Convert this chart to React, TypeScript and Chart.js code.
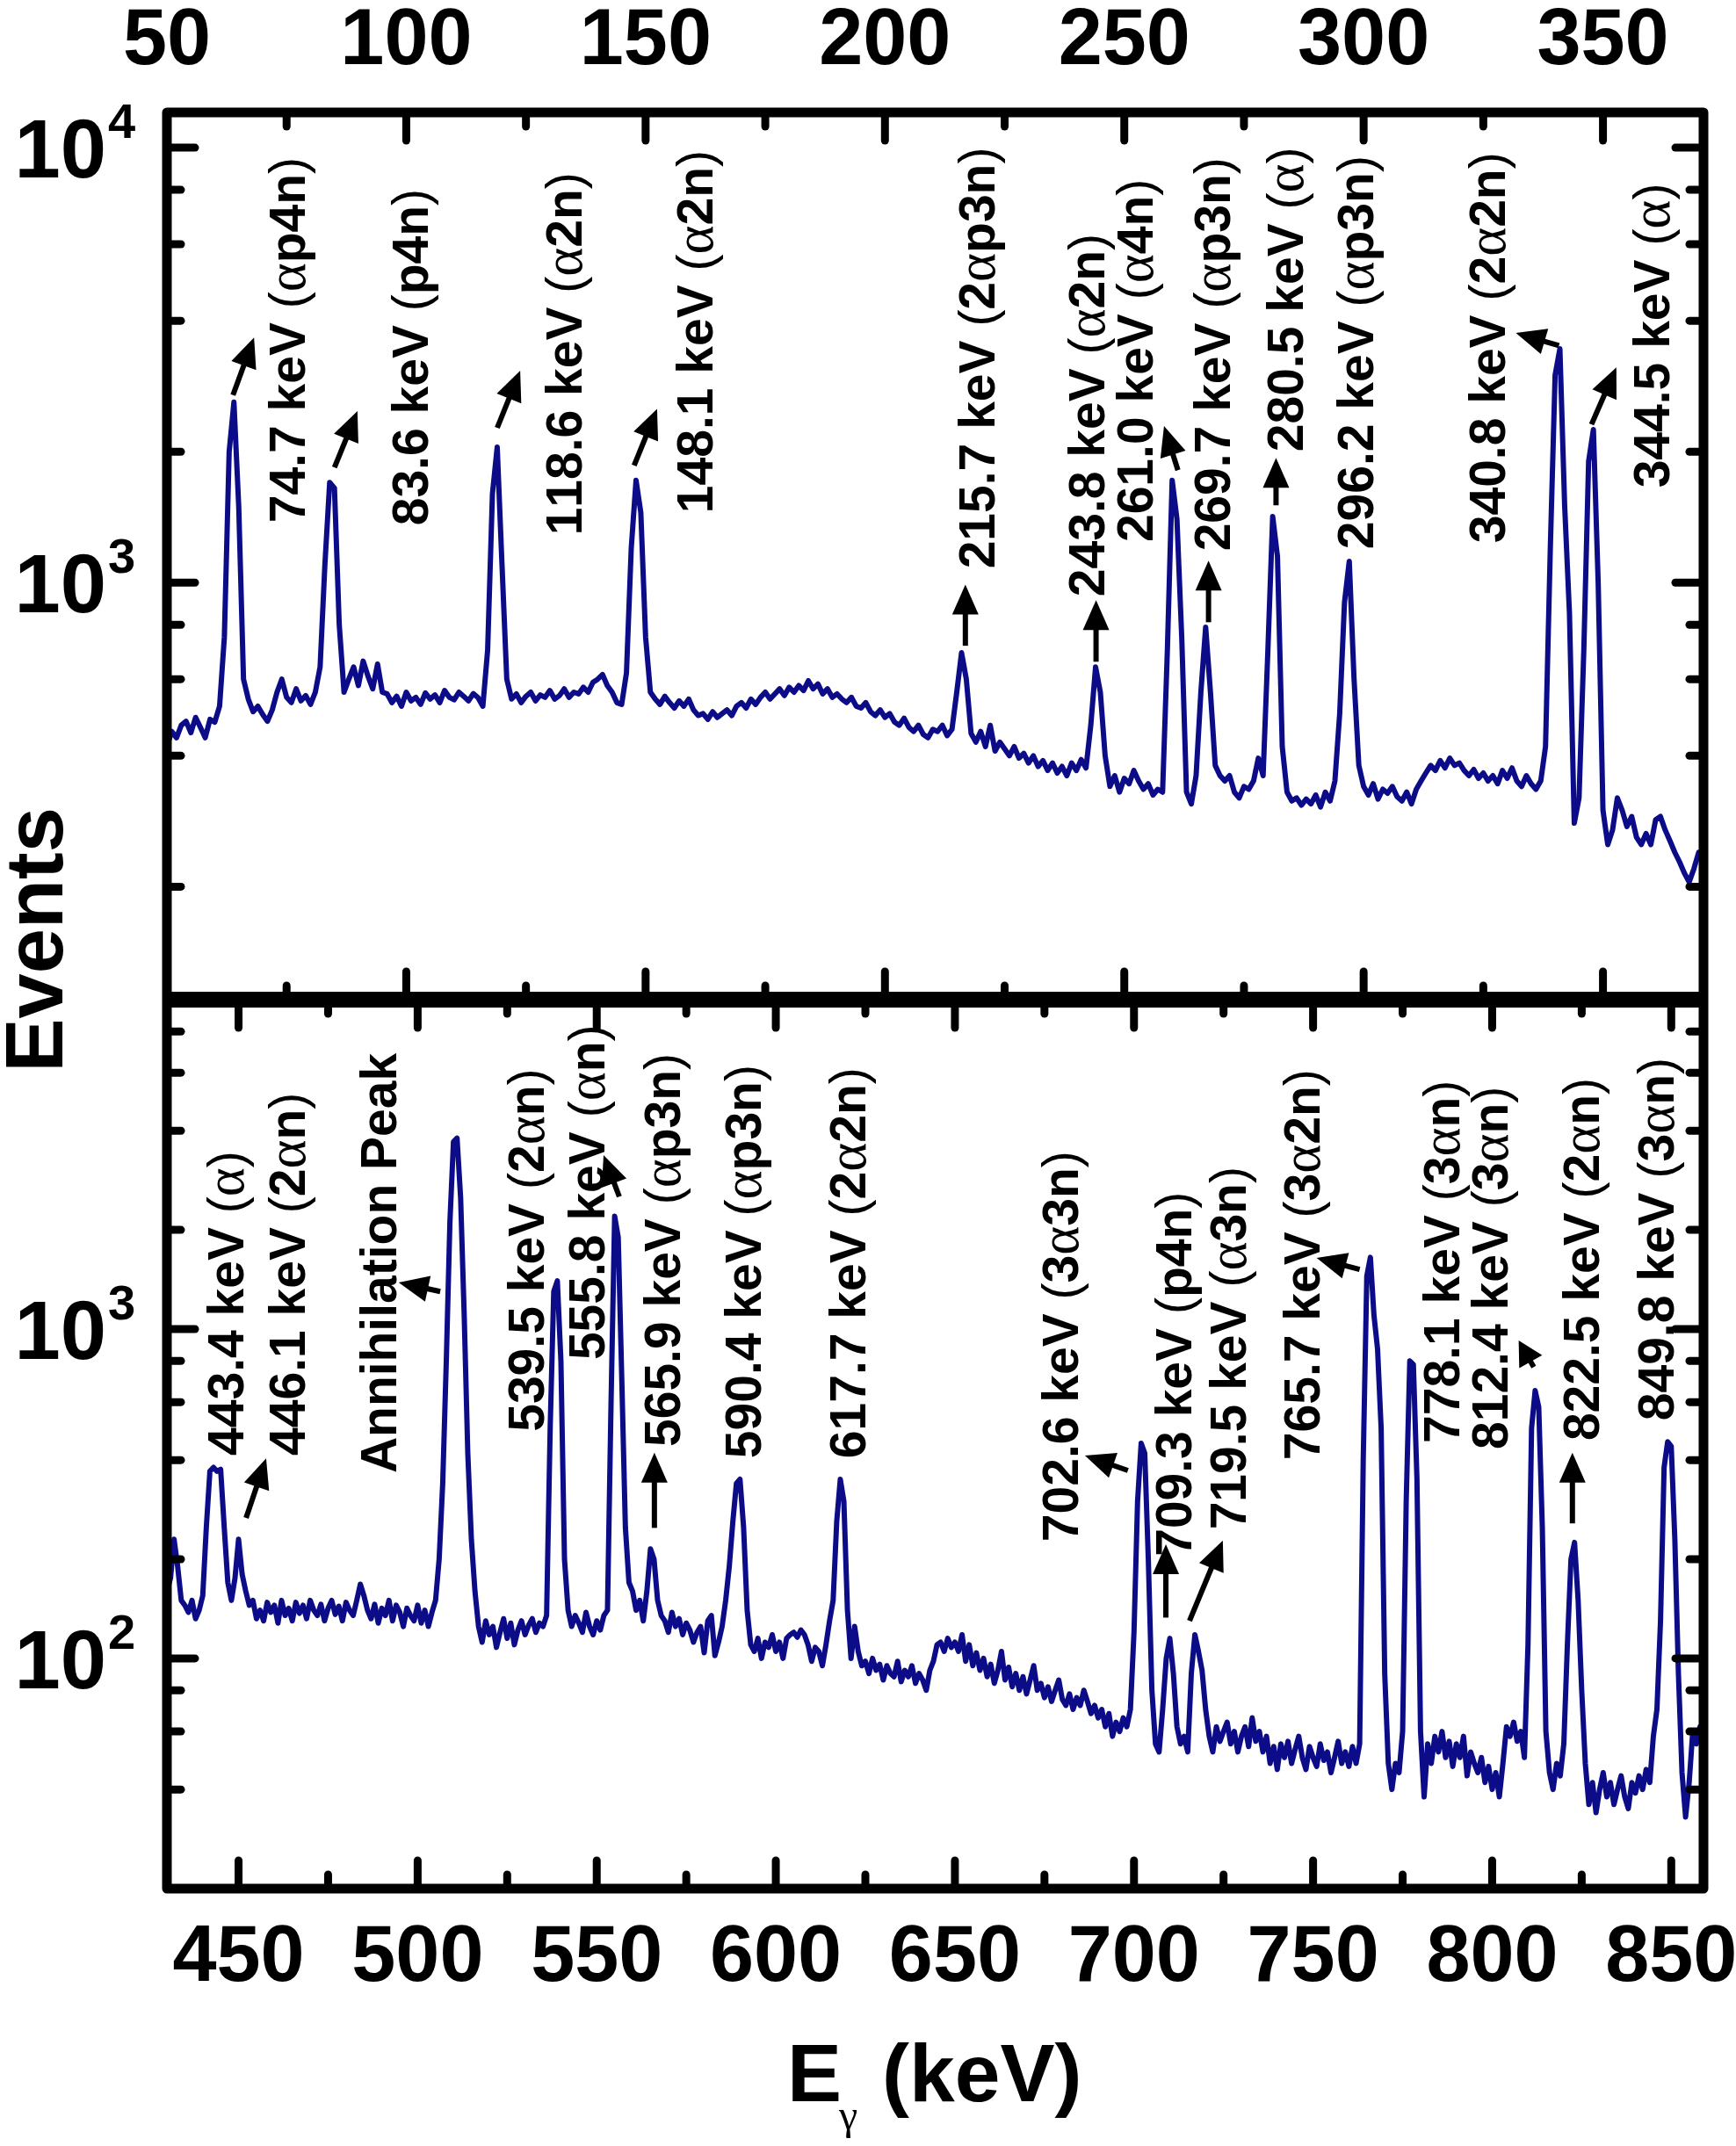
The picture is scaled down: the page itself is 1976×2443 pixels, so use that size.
import { useEffect, useRef } from 'react'
import {
  Chart,
  LineController,
  LineElement,
  PointElement,
  LinearScale,
  LogarithmicScale,
} from 'chart.js'

// Register Chart.js components
Chart.register(LineController, LineElement, PointElement, LinearScale, LogarithmicScale)

// page and frame layout
const W = 1976
const H = 2443
const FRAME_LEFT = 190
const FRAME_RIGHT = 1939
const FRAME_TOP = 128
const FRAME_MID = 1138
const FRAME_BOTTOM = 2150

const SANS = '"Liberation Sans", Arial, sans-serif'
const SERIF = '"Liberation Serif", "Times New Roman", serif'
const LINE_COLOR = '#0c0c88'

// channel grid, 1 keV per channel
const topStartKeV = 50
const bottomStartKeV = 430

// top panel counts, 50 .. 371 keV
const topCounts = [
  420, 455, 440, 470, 480, 452, 490, 465, 440, 485,
  478, 520, 750, 2000, 2600, 1500, 600, 540, 505, 520,
  498, 480, 510, 560, 600, 545, 530, 570, 535, 550,
  525, 560, 640, 1100, 1700, 1650, 800, 560, 600, 640,
  580, 660, 610, 570, 650, 560, 555, 530, 548, 520,
  560, 535, 545, 525, 558, 540, 552, 530, 565, 545,
  538, 560, 548, 535, 556, 544, 520, 700, 1600, 2050,
  1100, 600, 540, 555, 530, 548, 560, 535, 552, 545,
  565, 540, 550, 570, 545, 560, 555, 575, 560, 590,
  600, 615, 580, 560, 530, 525, 620, 1200, 1720, 1450,
  750, 560, 540, 525, 548, 530, 515, 535, 520, 540,
  510, 495, 500, 485, 505, 490, 500, 510, 495, 520,
  530, 515, 540, 525, 545, 560, 540, 555, 570, 550,
  575, 560, 580, 565, 595, 570, 585, 555, 570, 545,
  555, 540, 530, 545, 520, 515, 530, 505, 495, 510,
  490, 500, 478, 470, 488, 465, 455, 470, 448, 440,
  460, 455, 470, 445, 460, 560, 690, 600, 450, 430,
  455, 420, 470, 410, 430, 415, 400, 420, 395, 405,
  385, 400, 378, 390, 370, 385, 365, 378, 360, 385,
  370, 392, 375, 470, 640, 560, 400, 340, 360, 330,
  355, 345, 370, 350, 335, 345, 325, 335, 330, 700,
  1720, 1400, 750, 330, 310, 360, 560, 790, 560, 380,
  360, 350, 360, 330, 320, 340, 335, 350, 395, 360,
  700, 1420, 1150, 420, 330, 315, 320, 308, 318, 310,
  325, 305, 330, 315, 350, 500, 900, 1120, 600, 380,
  340, 325, 345, 318, 335, 328, 340, 322, 315, 330,
  310, 335, 350, 365, 380, 370, 390, 375, 395, 380,
  385, 370, 360, 372, 355, 365, 350, 360, 345, 370,
  355, 375, 350, 340, 360, 345, 335, 350, 420, 1200,
  3000, 3450, 1500, 850, 280, 320, 700, 1900, 2250, 1000,
  300, 250, 270, 320, 300, 275, 290, 260, 250, 265,
  250, 285, 290, 270, 255, 240, 228, 215, 205, 220,
  240, 230,
]

// bottom panel counts, 430 .. 859 keV
const bottomCounts = [
  160, 175, 230, 190, 150, 145, 138, 150, 132, 140,
  155, 250, 370, 380, 370, 375, 250, 170, 150, 175,
  230, 180, 160, 145, 150, 132, 140, 130, 148, 138,
  145, 128, 150, 135, 142, 130, 148, 137, 145, 132,
  150, 140, 135, 146, 130, 142, 150, 136, 144, 130,
  148, 140, 135, 150, 168, 155, 140, 132, 146, 128,
  142, 135, 150, 130, 145, 138, 125, 142, 135, 130,
  145, 128, 140, 125, 138, 150, 200, 340, 800, 2100,
  3700, 3800, 2500, 1100, 420, 230, 160, 125, 112, 130,
  118, 125, 108, 120, 132, 115, 128, 110, 122, 130,
  118, 126, 132, 120, 128, 125, 135, 500, 1300, 1400,
  800, 200, 140, 125, 135, 128, 120, 138, 125, 118,
  130, 122, 135, 140, 600, 2200, 1900, 700, 250, 170,
  160, 140, 150, 130, 160, 215, 200, 150, 135, 130,
  120, 138, 125, 132, 118, 128, 122, 112, 120, 125,
  104, 130, 135, 102, 112, 125, 150, 190, 260, 340,
  350, 250, 140, 110, 105, 115, 100, 112, 108, 118,
  105, 112, 100, 115, 118, 120, 116, 122, 118, 110,
  98, 108, 105, 95, 110, 130, 150, 260, 350, 300,
  140, 100, 125, 105, 95, 98, 90, 100, 92, 96,
  86, 95, 90, 88, 98, 85, 92, 88, 95, 84,
  90, 86, 80, 92, 98, 110, 112, 105, 115, 108,
  112, 105, 118, 98, 110, 95, 104, 92, 100, 88,
  96, 84, 92, 105, 86, 94, 82, 90, 80, 88,
  78, 86, 95, 80, 84, 76, 82, 74, 80, 86,
  75, 72, 78, 70, 76, 72, 80, 74, 68, 72,
  66, 70, 62, 68, 58, 64, 60, 66, 62, 70,
  120, 300, 450, 420, 200, 80, 55, 52, 70, 100,
  115, 90, 62, 55, 58, 52, 90, 118, 105, 92,
  70, 58, 52, 62, 56, 60, 64, 55, 60, 52,
  58, 62, 54, 66, 56, 60, 52, 58, 48, 54,
  46, 55, 50, 56, 48, 53, 58, 50, 46, 54,
  50, 47, 55, 49, 52, 45, 50, 56, 48, 52,
  47, 54, 48, 55, 400, 1450, 1650, 1100, 870, 500,
  90, 48, 40, 48, 45, 60, 300, 800, 780, 350,
  60, 38, 55, 48, 58, 52, 60, 50, 56, 47,
  55, 50, 58, 44, 52, 48, 45, 50, 42, 47,
  40, 45, 38, 48, 62, 58, 64, 56, 60, 50,
  110, 500, 650, 580, 250, 60, 45, 40, 48, 44,
  55, 110, 200, 225, 150, 80, 48, 36, 42, 34,
  40, 45, 38, 42, 36, 40, 44, 38, 35, 42,
  39, 44, 40, 46, 42, 58, 70, 130, 380, 455,
  440, 230, 90, 45, 33, 42, 60, 55, 62, 58,
]

// axes
const topXRange = [50, 371]
const bottomXRange = [430, 859]
const topYRange = [110, 12050]
const bottomYRange = [20, 10000]
const topXMajor = [50, 100, 150, 200, 250, 300, 350]
const topXMinor = [75, 125, 175, 225, 275, 325]
const bottomXMajor = [450, 500, 550, 600, 650, 700, 750, 800, 850]
const bottomXMinor = [475, 525, 575, 625, 675, 725, 775, 825]
const topYMajor = [1000, 10000]
const bottomYMajor = [100, 1000]
const yMinorMantissa = [2, 4, 6, 8]

type Label = { text: string; e: number; c: number }
type Arrow = { from: [number, number]; to: [number, number] }

// peak labels: anchored at the start (lower end) of the rotated text
const topLabels: Label[] = [
  { text: '74.7 keV (αp4n)', e: 75.0, c: 1372 },
  { text: '83.6 keV (p4n)', e: 100.8, c: 1353 },
  { text: '118.6 keV (α2n)', e: 132.9, c: 1285 },
  { text: '148.1 keV (α2n)', e: 160.3, c: 1445 },
  { text: '215.7 keV (2αp3n)', e: 219.2, c: 1077 },
  { text: '243.8 keV (α2n)', e: 242.1, c: 929 },
  { text: '261.0 keV (α4n)', e: 252.2, c: 1240 },
  { text: '269.7 keV (αp3n)', e: 268.3, c: 1182 },
  { text: '280.5 keV (α)', e: 283.6, c: 2000 },
  { text: '296.2 keV (αp3n)', e: 298.3, c: 1194 },
  { text: '340.8 keV (2α2n)', e: 325.8, c: 1233 },
  { text: '344.5 keV (α)', e: 360.1, c: 1652 },
]

const topArrows: Arrow[] = [
  { from: [63.8, 2700], to: [68.2, 3660] },
  { from: [85.0, 1840], to: [89.8, 2480] },
  { from: [119.0, 2270], to: [123.8, 3070] },
  { from: [147.6, 1860], to: [152.4, 2510] },
  { from: [216.8, 716], to: [216.8, 990] },
  { from: [244.1, 658], to: [244.1, 911] },
  { from: [261.2, 1814], to: [258.3, 2290] },
  { from: [267.6, 811], to: [267.6, 1123] },
  { from: [281.7, 1506], to: [281.7, 1936] },
  { from: [340.8, 3508], to: [331.8, 3750] },
  { from: [347.6, 2311], to: [352.8, 3126] },
]

const bottomLabels: Label[] = [
  { text: '443.4 keV (α)', e: 446.4, c: 413 },
  { text: '446.1 keV (2αn)', e: 463.4, c: 413 },
  { text: 'Annihilation Peak', e: 488.9, c: 365 },
  { text: '539.5 keV (2αn)', e: 530.3, c: 488 },
  { text: '555.8 keV (αn)', e: 547.2, c: 806 },
  { text: '565.9 keV (αp3n)', e: 568.3, c: 439 },
  { text: '590.4 keV (αp3n)', e: 590.9, c: 405 },
  { text: '617.7 keV (2α2n)', e: 620.1, c: 405 },
  { text: '702.6 keV (3α3n)', e: 679.4, c: 226 },
  { text: '709.3 keV (p4n)', e: 711.1, c: 204 },
  { text: '719.5 keV (α3n)', e: 726.3, c: 246 },
  { text: '765.7 keV (3α2n)', e: 746.9, c: 400 },
  { text: '778.1 keV (3αn)', e: 785.9, c: 450 },
  { text: '812.4 keV (3αn)', e: 799.3, c: 431 },
  { text: '822.5 keV (2αn)', e: 824.9, c: 458 },
  { text: '849.8 keV (3αn)', e: 845.7, c: 527 },
]

const bottomArrows: Arrow[] = [
  { from: [452.1, 267], to: [457.7, 405] },
  { from: [506.3, 1300], to: [494.7, 1384] },
  { from: [556.3, 2524], to: [551.9, 3373] },
  { from: [566.1, 249], to: [566.1, 421] },
  { from: [698.3, 372], to: [686.3, 413] },
  { from: [708.9, 133], to: [708.9, 222] },
  { from: [715.5, 130], to: [724.8, 228] },
  { from: [763.0, 1517], to: [751.0, 1644] },
  { from: [811.6, 767], to: [807.4, 923] },
  { from: [822.4, 257], to: [822.4, 421] },
]

interface PanelSpec {
  xMajor: number[]
  xMinor: number[]
  yMajor: number[]
  yRange: number[]
  xLabelBaseline: number
  labels: Label[]
  arrows: Arrow[]
  outer: boolean
}

const toPoints = (start: number, counts: number[]) =>
  counts.map((c, i) => ({ x: start + i, y: c }))

// draws a label rotated 90deg, mixing bold sans with regular parentheses and alpha
function drawRotatedLabel(ctx: CanvasRenderingContext2D, text: string, x: number, y: number, size: number) {
  ctx.save()
  ctx.translate(x, y)
  ctx.rotate(-Math.PI / 2)
  ctx.textAlign = 'left'
  ctx.textBaseline = 'alphabetic'
  const base = size * 0.358
  let cx = 0
  for (const ch of Array.from(text)) {
    if (ch === 'α') ctx.font = `${Math.round(size * 1.1)}px ${SERIF}`
    else if (ch === '(' || ch === ')') ctx.font = `${size}px ${SANS}`
    else ctx.font = `bold ${size}px ${SANS}`
    ctx.fillText(ch, cx, base)
    cx += ctx.measureText(ch).width
  }
  ctx.restore()
}

function drawArrow(ctx: CanvasRenderingContext2D, x1: number, y1: number, x2: number, y2: number) {
  const dx = x2 - x1
  const dy = y2 - y1
  const len = Math.hypot(dx, dy)
  const ux = dx / len
  const uy = dy / len
  const hl = Math.min(34, len * 0.8)
  const hw = 15
  const bx = x2 - ux * hl
  const by = y2 - uy * hl
  ctx.lineWidth = 6
  ctx.lineCap = 'butt'
  ctx.beginPath()
  ctx.moveTo(x1, y1)
  ctx.lineTo(bx + ux * 2, by + uy * 2)
  ctx.stroke()
  ctx.beginPath()
  ctx.moveTo(x2, y2)
  ctx.lineTo(bx - uy * hw, by + ux * hw)
  ctx.lineTo(bx + uy * hw, by - ux * hw)
  ctx.closePath()
  ctx.fill()
}

function panelPlugin(p: PanelSpec) {
  return {
    id: 'panelDecor',
    afterDraw(chart: Chart) {
      const ctx = chart.ctx
      const { left, right, top, bottom } = chart.chartArea
      const xs = chart.scales.x
      const ys = chart.scales.y
      ctx.save()
      ctx.strokeStyle = '#000'
      ctx.fillStyle = '#000'
      ctx.lineWidth = 9
      ctx.lineCap = 'round'
      const seg = (x1: number, y1: number, x2: number, y2: number) => {
        ctx.beginPath()
        ctx.moveTo(x1, y1)
        ctx.lineTo(x2, y2)
        ctx.stroke()
      }
      const MAJ = 32
      const MIN = 16
      for (const v of p.xMajor) {
        const x = xs.getPixelForValue(v)
        seg(x, top, x, top + MAJ)
        seg(x, bottom, x, bottom - MAJ)
      }
      for (const v of p.xMinor) {
        const x = xs.getPixelForValue(v)
        seg(x, top, x, top + MIN)
        seg(x, bottom, x, bottom - MIN)
      }
      for (const v of p.yMajor) {
        const y = ys.getPixelForValue(v)
        seg(left, y, left + MAJ, y)
        seg(right, y, right - MAJ, y)
      }
      for (const d of [1, 10, 100, 1000]) {
        for (const m of yMinorMantissa) {
          const v = m * d
          if (v <= p.yRange[0] || v >= p.yRange[1]) continue
          const y = ys.getPixelForValue(v)
          seg(left, y, left + MIN, y)
          seg(right, y, right - MIN, y)
        }
      }

      // x tick labels
      ctx.textAlign = 'center'
      ctx.textBaseline = 'alphabetic'
      ctx.font = `bold 90px ${SANS}`
      for (const v of p.xMajor) {
        ctx.fillText(String(v), xs.getPixelForValue(v), p.xLabelBaseline)
      }

      // y tick labels as powers of ten
      for (const v of p.yMajor) {
        const y = ys.getPixelForValue(v)
        ctx.textAlign = 'right'
        ctx.font = `bold 94px ${SANS}`
        ctx.fillText('10', 121, y + 34)
        ctx.textAlign = 'left'
        ctx.font = `bold 56px ${SANS}`
        ctx.fillText(String(Math.round(Math.log10(v))), 123, y - 11)
      }

      // arrows and peak labels
      for (const a of p.arrows) {
        drawArrow(
          ctx,
          xs.getPixelForValue(a.from[0]),
          ys.getPixelForValue(a.from[1]),
          xs.getPixelForValue(a.to[0]),
          ys.getPixelForValue(a.to[1])
        )
      }
      for (const l of p.labels) {
        drawRotatedLabel(ctx, l.text, xs.getPixelForValue(l.e), ys.getPixelForValue(l.c), 57)
      }

      if (p.outer) {
        // full frame with the thick divider
        ctx.lineCap = 'butt'
        ctx.lineJoin = 'round'
        ctx.lineWidth = 11
        ctx.strokeRect(FRAME_LEFT, FRAME_TOP, FRAME_RIGHT - FRAME_LEFT, FRAME_BOTTOM - FRAME_TOP)
        ctx.lineWidth = 18
        seg(FRAME_LEFT, FRAME_MID, FRAME_RIGHT, FRAME_MID)

        // axis titles
        ctx.save()
        ctx.translate(38, 1070)
        ctx.rotate(-Math.PI / 2)
        ctx.textAlign = 'center'
        ctx.font = `bold 92px ${SANS}`
        ctx.fillText('Events', 0, 33)
        ctx.restore()

        ctx.textAlign = 'left'
        ctx.font = `bold 93px ${SANS}`
        ctx.fillText('E', 896, 2392)
        ctx.font = `48px ${SERIF}`
        ctx.fillText('γ', 955, 2424)
        ctx.font = `bold 93px ${SANS}`
        ctx.fillText('(keV)', 1004, 2392)
      }
      ctx.restore()
    },
  }
}

function makeChart(
  canvas: HTMLCanvasElement,
  counts: number[],
  start: number,
  xRange: number[],
  yRange: number[],
  padTop: number,
  padBottom: number,
  spec: PanelSpec
) {
  return new Chart(canvas, {
    type: 'line',
    data: {
      datasets: [
        {
          data: toPoints(start, counts),
          borderColor: LINE_COLOR,
          borderWidth: 6,
          pointRadius: 0,
          tension: 0,
          borderJoinStyle: 'round',
        },
      ],
    },
    options: {
      responsive: false,
      animation: false,
      devicePixelRatio: 1,
      events: [],
      layout: { padding: { left: FRAME_LEFT, right: W - FRAME_RIGHT, top: padTop, bottom: padBottom } },
      plugins: { legend: { display: false }, tooltip: { enabled: false } },
      scales: {
        x: { type: 'linear', min: xRange[0], max: xRange[1], display: false },
        y: { type: 'logarithmic', min: yRange[0], max: yRange[1], display: false },
      },
    },
    plugins: [panelPlugin(spec)],
  })
}

export default function App() {
  const topRef = useRef<HTMLCanvasElement>(null)
  const bottomRef = useRef<HTMLCanvasElement>(null)

  useEffect(() => {
    if (!topRef.current || !bottomRef.current) return
    const topChart = makeChart(topRef.current, topCounts, topStartKeV, topXRange, topYRange, FRAME_TOP, H - FRAME_MID, {
      xMajor: topXMajor,
      xMinor: topXMinor,
      yMajor: topYMajor,
      yRange: topYRange,
      xLabelBaseline: 73,
      labels: topLabels,
      arrows: topArrows,
      outer: false,
    })
    const bottomChart = makeChart(
      bottomRef.current,
      bottomCounts,
      bottomStartKeV,
      bottomXRange,
      bottomYRange,
      FRAME_MID,
      H - FRAME_BOTTOM,
      {
        xMajor: bottomXMajor,
        xMinor: bottomXMinor,
        yMajor: bottomYMajor,
        yRange: bottomYRange,
        xLabelBaseline: 2255,
        labels: bottomLabels,
        arrows: bottomArrows,
        outer: true,
      }
    )
    return () => {
      topChart.destroy()
      bottomChart.destroy()
    }
  }, [])

  const canvasStyle = { position: 'absolute' as const, left: 0, top: 0, width: W, height: H }
  return (
    <div style={{ position: 'absolute', left: 0, top: 0, width: W, height: H, background: '#fff' }}>
      <canvas ref={topRef} width={W} height={H} style={canvasStyle}></canvas>
      <canvas ref={bottomRef} width={W} height={H} style={canvasStyle}></canvas>
    </div>
  )
}
